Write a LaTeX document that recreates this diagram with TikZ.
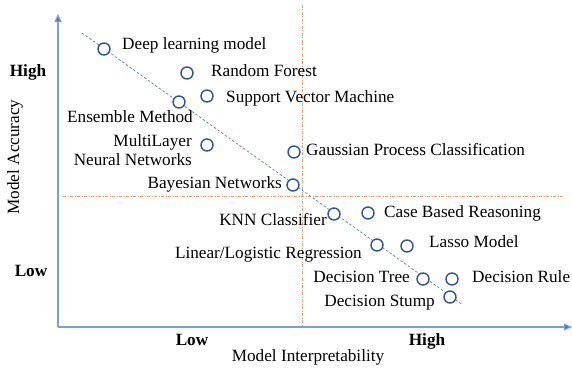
\documentclass[tikz,border=0pt]{standalone}
\usepackage{fontspec}
\setmainfont{Liberation Serif}
\usetikzlibrary{positioning, arrows.meta}

\definecolor{axisblue}{HTML}{7F9CD8}
\definecolor{tipblue}{HTML}{4472C4}
\definecolor{dotblue}{HTML}{2F5597}
\definecolor{guideorange}{HTML}{F0A070}

\begin{document}
\begin{tikzpicture}
    [
        x=1pt, y=-1pt,
        model_node/.style={circle, draw=dotblue, fill=white, line width=1.4pt, minimum size=12pt, inner sep=0pt},
        txt_node/.style={inner sep=0pt, font=\fontsize{17.2}{19}\selectfont, text height=1.0em, text depth=0.16em},
        bold_node/.style={txt_node, font=\fontsize{17.2}{19}\selectfont\bfseries},
        axis_line/.style={draw=axisblue, line width=1.2pt, -{Triangle[length=8pt, width=7pt, fill=tipblue]}},
        guide_line/.style={draw=guideorange, line width=0.8pt, dash pattern=on 3pt off 1.5pt on 1pt off 1.5pt},
    ]
        \useasboundingbox (0,0) rectangle (572,369);
        % axes
        \coordinate (origin) at (58,327) ;
        \coordinate (ytop) at (58,14) ;
        \coordinate (xend) at (572,327) ;
        \draw[axis_line] (origin) -- (ytop) ;
        \draw[axis_line] (origin) -- (xend) ;
        % quadrant guides
        \coordinate (vtop) at (302,5) ;
        \coordinate (vbot) at (302,326) ;
        \coordinate (hleft) at (63,196) ;
        \coordinate (hright) at (563,196) ;
        \draw[guide_line] (vtop) -- (vbot) ;
        \draw[guide_line] (hleft) -- (hright) ;
        % trend
        \coordinate (trend_a) at (82,33) ;
        \coordinate (trend_b) at (463,305) ;
        \draw[draw=tipblue, line width=0.6pt, dash pattern=on 2.5pt off 2pt] (trend_a) -- (trend_b) ;
        % models
        \node[model_node] (dlm) at (104,49) {} ;
        \node[model_node] (rf) at (187,73) {} ;
        \node[model_node] (svm) at (207,96) {} ;
        \node[model_node] (em) at (179,102) {} ;
        \node[model_node] (mlnn) at (207,145) {} ;
        \node[model_node] (gpc) at (294,152) {} ;
        \node[model_node] (bn) at (293,185) {} ;
        \node[model_node] (knn) at (334,214) {} ;
        \node[model_node] (cbr) at (368,213) {} ;
        \node[model_node] (lin) at (377,245) {} ;
        \node[model_node] (lasso) at (407,246) {} ;
        \node[model_node] (dt) at (423,279) {} ;
        \node[model_node] (dr) at (452,279) {} ;
        \node[model_node] (ds) at (450,297) {} ;
        % model names
        \node[txt_node, anchor=west] (dlm_t) at (122,45) {Deep learning model} ;
        \node[txt_node, anchor=west] (rf_t) at (211,72) {Random Forest} ;
        \node[txt_node, anchor=west] (svm_t) at (226,98) {Support Vector Machine} ;
        \node[txt_node, anchor=east] (em_t) at (193,118) {Ensemble Method} ;
        \node[txt_node, anchor=east] (mlnn_t1) at (192,142) {MultiLayer} ;
        \node[txt_node, anchor=east] (mlnn_t2) at (192,161) {Neural Networks} ;
        \node[txt_node, anchor=west] (gpc_t) at (306,151) {Gaussian Process Classification} ;
        \node[txt_node, anchor=east] (bn_t) at (282,184) {Bayesian Networks} ;
        \node[txt_node, anchor=east] (knn_t) at (327,221) {KNN Classifier} ;
        \node[txt_node, anchor=west] (cbr_t) at (384,213) {Case Based Reasoning} ;
        \node[txt_node, anchor=east] (lin_t) at (362,254) {Linear/Logistic Regression} ;
        \node[txt_node, anchor=west] (lasso_t) at (429,243) {Lasso Model} ;
        \node[txt_node, anchor=east] (dt_t) at (410,278) {Decision Tree} ;
        \node[txt_node, anchor=west] (dr_t) at (472,278) {Decision Rule} ;
        \node[txt_node, anchor=east] (ds_t) at (435,302) {Decision Stump} ;
        % axis labels
        \node[bold_node] (yhigh) at (28,72) {High} ;
        \node[bold_node] (ylow) at (31,272) {Low} ;
        \node[bold_node] (xlow) at (192,341) {Low} ;
        \node[bold_node] (xhigh) at (427,341) {High} ;
        \node[txt_node] (xtitle) at (308,357) {Model Interpretability} ;
        \node[txt_node, rotate=90] (ytitle) at (15,157) {Model Accuracy} ;
    \end{tikzpicture}
\end{document}
